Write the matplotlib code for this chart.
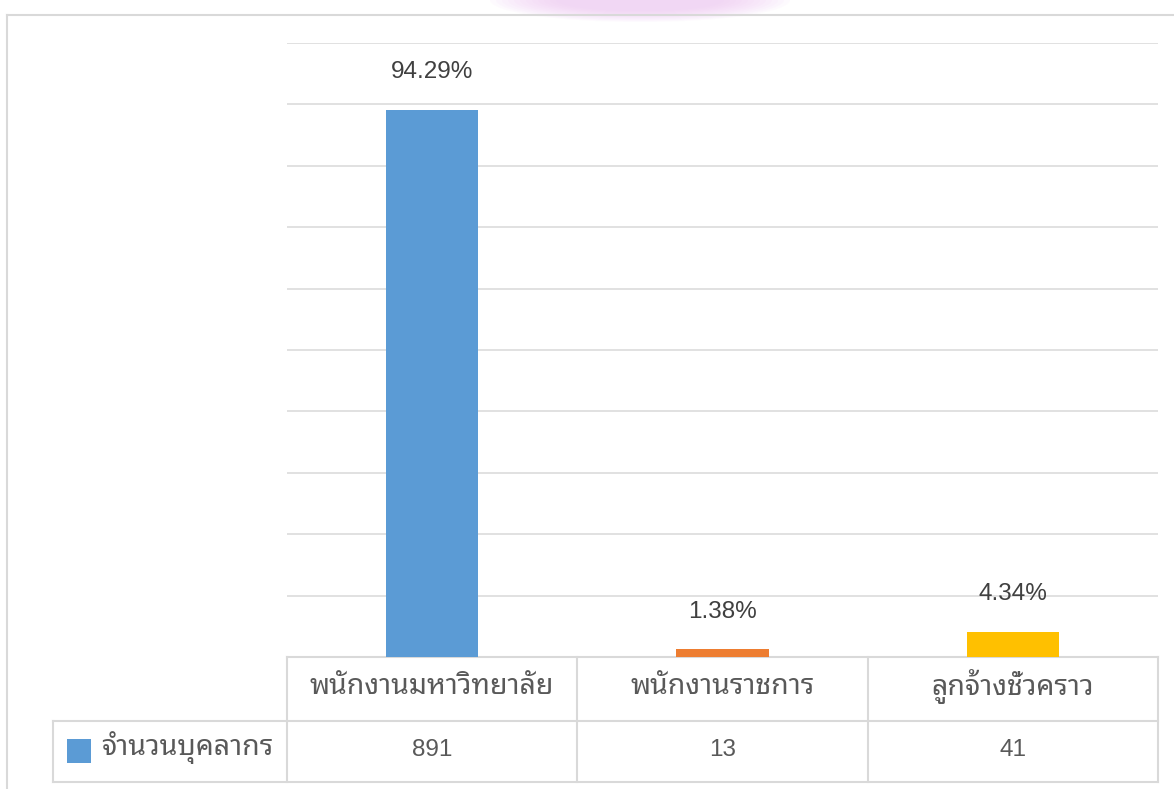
import matplotlib
matplotlib.use('Agg')
import matplotlib.pyplot as plt
import matplotlib.transforms as mtransforms
from matplotlib import font_manager, ft2font
from matplotlib.lines import Line2D
from matplotlib.patches import Rectangle, Ellipse

categories = ['พนักงานมหาวิทยาลัย', 'พนักงานราชการ', 'ลูกจ้างชั่วคราว']
counts = [891, 13, 41]
percent_labels = ['94.29%', '1.38%', '4.34%']
series_name = 'จำนวนบุคลากร'
bar_colors = ['#5b9bd5', '#ed7d31', '#ffc000']

W, H = 1174, 789
GRID = '#d9d9d9'
TXT = '#404040'
TBL_TXT = '#595959'


def thai_family():
    # look for an installed font that actually has Thai glyphs, looped styles first
    found = []
    for f in font_manager.fontManager.ttflist:
        try:
            if 0x0E01 in ft2font.FT2Font(f.fname).get_charmap():
                found.append(f.name)
        except Exception:
            pass
    for pref in ['Tahoma', 'Noto Sans Thai Looped', 'Loma', 'Waree', 'Garuda',
                 'Tlwg Typo', 'Noto Sans Thai', 'Leelawadee UI', 'Sarabun']:
        if pref in found:
            return pref
    return found[0] if found else 'DejaVu Sans'


thai = thai_family()
thai_fam = [thai, 'DejaVu Sans']
num_fam = ['Liberation Sans', 'DejaVu Sans']


def fx(x): return x / W


def fy(y): return 1 - y / H


fig = plt.figure(figsize=(W / 100, H / 100), dpi=100)
fig.patch.set_facecolor('white')

# faint watermark blob at the top
for i in range(12):
    w = 300 - i * 12
    h = 44 - i * 2
    fig.patches.append(Ellipse((fx(640), fy(0)), w / W, h / H, transform=fig.transFigure,
                               facecolor='#f0c4f4', edgecolor='none', alpha=0.08, zorder=-1))

# outer chart frame (left and top)
fig.add_artist(Line2D([fx(7), fx(7)], [fy(15), fy(789)], color=GRID, lw=1.5))
fig.add_artist(Line2D([fx(7), fx(1174)], [fy(15), fy(15)], color=GRID, lw=1.5))

ax = fig.add_axes([fx(287), fy(657), fx(1158) - fx(287), fy(43) - fy(657)])
ax.set_facecolor('none')
x = list(range(len(categories)))
ax.bar(x, counts, width=0.317, color=bar_colors, zorder=3)
ax.set_xlim(-0.5, len(categories) - 0.5)
ax.set_ylim(0, 1000)
ax.set_yticks(range(0, 1001, 100))
ax.yaxis.grid(True, color=GRID, lw=1.1)
ax.set_axisbelow(True)
ax.tick_params(left=False, bottom=False, labelleft=False, labelbottom=False)
for s in ax.spines.values():
    s.set_visible(False)

for xi, c, lab in zip(x, counts, percent_labels):
    ax.annotate(lab, (xi, c), xytext=(0, 27), textcoords='offset points',
                ha='center', va='center', fontsize=17.5, color=TXT, family=num_fam)

# data table under the axis
tr = mtransforms.blended_transform_factory(ax.transData, fig.transFigure)
y_top, y_mid, y_bot = fy(657), fy(721), fy(782)
x0, x1 = -0.5, len(categories) - 0.5
kw = dict(color=GRID, lw=1.5, transform=tr, clip_on=False)
ax.add_line(Line2D([x0, x1], [y_top, y_top], **kw))
for b in range(len(categories) + 1):
    ax.add_line(Line2D([b - 0.5, b - 0.5], [y_top, y_bot], **kw))
fig.add_artist(Line2D([fx(53), fx(1158)], [y_mid, y_mid], color=GRID, lw=1.5))
fig.add_artist(Line2D([fx(53), fx(1158)], [y_bot, y_bot], color=GRID, lw=1.5))
fig.add_artist(Line2D([fx(53), fx(53)], [y_mid, y_bot], color=GRID, lw=1.5))

for xi, cat, c in zip(x, categories, counts):
    ax.text(xi, fy(686), cat, transform=tr, ha='center', va='center',
            fontsize=20.5, color=TBL_TXT, family=thai_fam)
    ax.text(xi, fy(750), str(c), transform=tr, ha='center', va='center',
            fontsize=17.5, color=TBL_TXT, family=num_fam)

fig.patches.append(Rectangle((fx(67), fy(763)), 24 / W, 24 / H, transform=fig.transFigure,
                             facecolor=bar_colors[0], edgecolor='none'))
fig.text(fx(101), fy(748), series_name, ha='left', va='center', fontsize=20.5,
         color=TBL_TXT, family=thai_fam)

fig.savefig('out.png', dpi=100, facecolor='white')
